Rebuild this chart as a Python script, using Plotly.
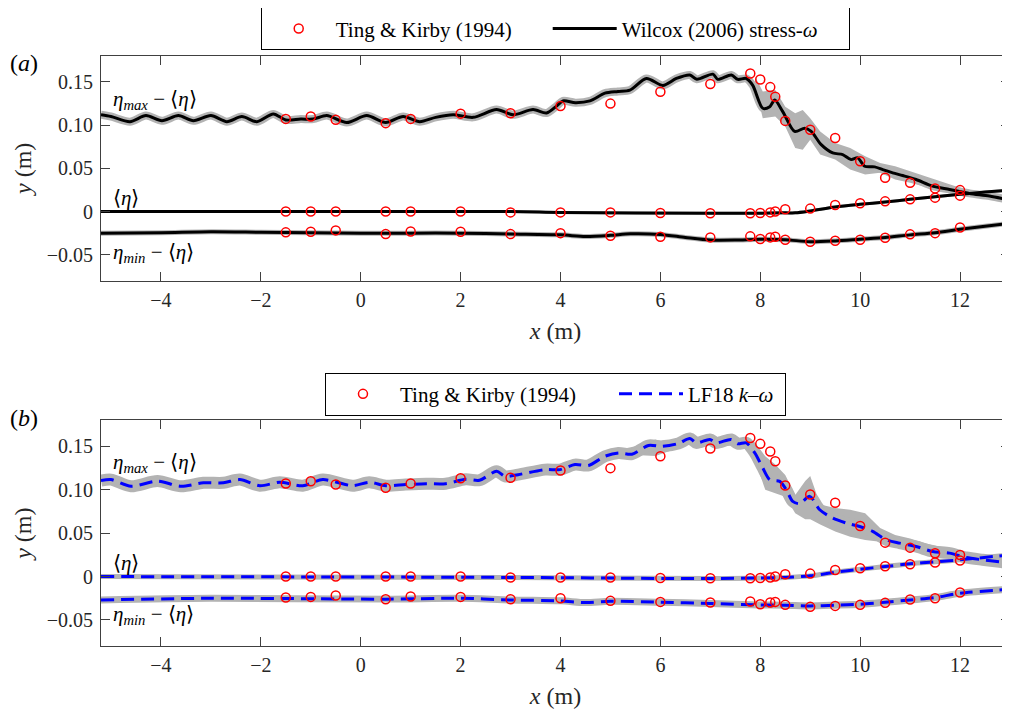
import plotly.graph_objects as go

# ---------------- Experimental data (Ting & Kirby 1994) ----------------
exp_x = [-1.5, -1.0, -0.5, 0.5, 1.0, 2.0, 3.0, 4.0, 5.0, 6.0, 7.0, 7.8, 8.0, 8.2, 8.3,
         8.5, 9.0, 9.5, 10.0, 10.5, 11.0, 11.5, 12.0]
exp_max = [0.1072, 0.1099, 0.1061, 0.1023, 0.1072, 0.1133, 0.1138, 0.1222, 0.1249, 0.1387,
           0.1475, 0.1597, 0.1529, 0.1440, 0.1329, 0.1049, 0.0946, 0.0851, 0.0582, 0.0391,
           0.0333, 0.0268, 0.0248]
exp_mean = [0.0, 0.0, 0.0, 0.0, 0.0, 0.0, -0.001, -0.001, -0.001, -0.0016, -0.002, -0.002,
            -0.0016, -0.001, 0.0, 0.0026, 0.0034, 0.0076, 0.0095, 0.0118, 0.0141, 0.0161, 0.0184]
exp_min = [-0.0241, -0.0234, -0.0218, -0.0261, -0.0230, -0.0234, -0.0261, -0.0250, -0.0280,
           -0.0292, -0.0299, -0.0287, -0.0318, -0.0299, -0.0292, -0.0326, -0.0349, -0.0338,
           -0.0326, -0.0303, -0.0264, -0.0250, -0.0184]

# ---------------- Panel (a): Wilcox (2006) stress-omega ----------------
wa_max_x = [-5.2, -5.0, -4.62, -4.3, -3.98, -3.65, -3.35, -3.0, -2.68, -2.38, -2.08, -1.75,
            -1.5, -1.2, -0.95, -0.68, -0.28, 0.12, 0.5, 0.85, 1.18, 1.5, 1.85, 2.25, 2.72,
            3.05, 3.45, 3.72, 3.92, 4.05, 4.3, 4.59, 4.89, 5.15, 5.39, 5.72, 6.05, 6.32,
            6.59, 6.73, 7.05, 7.15, 7.42, 7.55, 7.72, 7.85, 8.05, 8.19, 8.29, 8.45, 8.69,
            8.89, 9.02, 9.22, 9.45, 9.65, 9.82, 9.95, 10.09, 10.29, 10.45, 10.65, 10.85,
            11.12, 11.45, 11.79, 12.19, 12.59, 12.99]
wa_max_y = [0.112, 0.110, 0.104, 0.111, 0.105, 0.111, 0.105, 0.111, 0.104, 0.110, 0.104,
            0.113, 0.106, 0.107, 0.107, 0.111, 0.103, 0.111, 0.103, 0.110, 0.104, 0.109,
            0.112, 0.109, 0.118, 0.112, 0.118, 0.114, 0.122, 0.128, 0.126, 0.128, 0.137,
            0.139, 0.1406, 0.154, 0.146, 0.154, 0.158, 0.153, 0.159, 0.153, 0.158, 0.153,
            0.154, 0.146, 0.1195, 0.1214, 0.129, 0.1157, 0.0927, 0.0965, 0.0927, 0.0774,
            0.0678, 0.0659, 0.0601, 0.0621, 0.0524, 0.0517, 0.0486, 0.0448, 0.0417, 0.0371,
            0.0294, 0.0256, 0.021, 0.018, 0.0133]
wa_mean_x = [-5.2, 3.0, 4.0, 7.0, 8.0, 8.5, 8.7, 9.0, 9.5, 10.0, 10.5, 11.0, 11.5, 12.0, 12.5, 13.0]
wa_mean_y = [0.0, 0.0, -0.001, -0.002, -0.002, -0.0015, -0.0015, 0.0007, 0.0053, 0.0084,
             0.011, 0.0141, 0.0172, 0.0199, 0.0225, 0.0248]
wa_min_x = [-5.2, -4.0, -3.0, -2.0, -1.0, 0.0, 1.0, 2.0, 3.0, 4.0, 4.5, 5.0, 5.4, 6.0, 6.5,
            7.0, 7.5, 8.0, 8.5, 9.0, 9.5, 10.0, 10.5, 11.0, 11.5, 12.0, 12.5, 13.0]
wa_min_y = [-0.025, -0.0245, -0.0235, -0.024, -0.0245, -0.025, -0.025, -0.025, -0.026,
            -0.027, -0.0288, -0.0275, -0.0257, -0.0265, -0.030, -0.033, -0.033, -0.032,
            -0.0325, -0.035, -0.034, -0.032, -0.030, -0.027, -0.0245, -0.0205, -0.017, -0.0135]
wa_band_x = [7.9, 8.05, 8.3, 8.5, 8.7, 8.85, 9.0, 9.2, 9.5, 9.8, 10.1, 10.4, 10.7, 11.0,
             11.5, 12.0, 12.5, 13.0]
wa_band_hi = [0.156, 0.139, 0.1406, 0.1214, 0.1138, 0.1176, 0.108, 0.0926, 0.0793, 0.0736,
              0.0639, 0.0563, 0.0525, 0.0467, 0.0371, 0.0276, 0.021, 0.016]
wa_band_lo = [0.144, 0.108, 0.110, 0.0984, 0.0736, 0.0716, 0.0831, 0.0659, 0.0601, 0.0486,
              0.0429, 0.0448, 0.0371, 0.0333, 0.0256, 0.0199, 0.015, 0.010]

# ---------------- Panel (b): LF18 k-omega ----------------
lf_max_x = [-5.2, -5.0, -4.6, -4.07, -3.6, -3.15, -2.75, -2.42, -2.02, -1.62, -1.16, -0.76,
            -0.16, 0.17, 0.5, 0.9, 1.31, 1.7, 2.1, 2.38, 2.72, 2.89, 3.15, 3.69, 3.99, 4.29,
            4.56, 4.89, 5.16, 5.43, 5.76, 6.03, 6.36, 6.59, 6.72, 6.99, 7.12, 7.42, 7.55,
            7.72, 7.89, 8.05, 8.19, 8.39, 8.52, 8.65, 8.79, 8.99, 9.19, 9.45, 9.72, 9.99,
            10.25, 10.52, 10.79, 11.12, 11.45, 11.79, 12.12, 12.45, 12.79, 13.0]
lf_max_y = [0.1105, 0.1117, 0.104, 0.110, 0.104, 0.108, 0.108, 0.1117, 0.1047, 0.1086,
            0.1047, 0.1117, 0.1047, 0.1086, 0.1047, 0.106, 0.107, 0.107, 0.112, 0.111,
            0.1213, 0.1155, 0.1174, 0.1232, 0.1232, 0.129, 0.128, 0.1386, 0.1424, 0.141,
            0.151, 0.150, 0.1533, 0.159, 0.154, 0.158, 0.154, 0.158, 0.153, 0.154, 0.1425,
            0.1252, 0.1117, 0.1097, 0.1001, 0.0866, 0.084, 0.0924, 0.077, 0.0674, 0.0617,
            0.0577, 0.052, 0.0424, 0.0385, 0.0346, 0.0289, 0.027, 0.022, 0.0193, 0.017, 0.0155]
lf_mean_x = [-5.2, 3.0, 7.0, 8.5, 9.0, 9.5, 10.0, 10.5, 11.0, 11.5, 12.0, 13.0]
lf_mean_y = [0.0, -0.001, -0.0023, -0.001, 0.0008, 0.005, 0.0085, 0.0115, 0.0147, 0.017,
             0.0193, 0.025]
lf_min_x = [-5.2, -3.0, 0.5, 2.0, 3.0, 4.0, 4.5, 5.0, 6.0, 7.0, 8.0, 8.5, 9.0, 9.5, 10.0,
            10.5, 11.0, 11.5, 12.0, 13.0]
lf_min_y = [-0.027, -0.025, -0.026, -0.025, -0.027, -0.028, -0.030, -0.0285, -0.0296, -0.031,
            -0.0327, -0.033, -0.0338, -0.033, -0.0319, -0.0296, -0.027, -0.0243, -0.0192, -0.0146]
lf_band_x = [4.0, 4.5, 5.0, 5.5, 5.9, 6.2, 6.5, 7.0, 7.5, 7.75, 7.9, 8.1, 8.3, 8.5, 8.7,
             8.9, 9.0, 9.2, 9.5, 9.8, 10.1, 10.4, 10.7, 11.0, 11.3, 11.6, 12.0, 12.5, 13.0]
lf_band_hi = [0.129, 0.133, 0.144, 0.150, 0.158, 0.153, 0.160, 0.161, 0.158, 0.157, 0.154,
              0.1386, 0.129, 0.117, 0.094, 0.110, 0.116, 0.083, 0.079, 0.077, 0.073, 0.056,
              0.048, 0.044, 0.0385, 0.0346, 0.029, 0.023, 0.021]
lf_band_lo = [0.121, 0.125, 0.135, 0.140, 0.139, 0.145, 0.152, 0.153, 0.150, 0.150, 0.133,
              0.100, 0.096, 0.092, 0.073, 0.066, 0.066, 0.060, 0.052, 0.046, 0.042, 0.040,
              0.035, 0.029, 0.027, 0.0232, 0.019, 0.0155, 0.0116]

x_tickvals = [-4, -2, 0, 2, 4, 6, 8, 10, 12]
x_ticktext = ["\u22124", "\u22122", "0", "2", "4", "6", "8", "10", "12"]
y_tickvals = [-0.05, 0.0, 0.05, 0.10, 0.15]
y_ticktext = ["\u22120.05", "0", "0.05", "0.10", "0.15"]

FONT = "Liberation Serif, Times New Roman, Times, serif"
GRAY = "#b3b3b3"
TXT = "#262626"
AX = "#404040"

fig = go.Figure()


def add_panel(xr, yr, legend, band_x, band_hi, band_lo, curves, halo_w, line_style,
              line_name, exp_w, line_w):
    # shaded range band
    fig.add_trace(go.Scatter(x=band_x, y=band_lo, mode="lines", line=dict(width=0, color=GRAY),
                             showlegend=False, hoverinfo="skip", xaxis=xr, yaxis=yr))
    fig.add_trace(go.Scatter(x=band_x, y=band_hi, mode="lines", line=dict(width=0, color=GRAY),
                             fill="tonexty", fillcolor=GRAY, showlegend=False, hoverinfo="skip",
                             xaxis=xr, yaxis=yr))
    # thin range halo around each curve
    for (cx, cy), hw in zip(curves, halo_w):
        fig.add_trace(go.Scatter(x=cx, y=cy, mode="lines",
                                 line=dict(width=hw, color=GRAY, shape="spline", smoothing=0.8),
                                 showlegend=False, hoverinfo="skip", xaxis=xr, yaxis=yr))
    for i, (cx, cy) in enumerate(curves):
        fig.add_trace(go.Scatter(x=cx, y=cy, mode="lines", name=line_name,
                                 line=dict(shape="spline", smoothing=0.8, **line_style),
                                 showlegend=(i == 0), legendgroup=legend + "m",
                                 legendwidth=line_w,
                                 legend=legend, legendrank=2, xaxis=xr, yaxis=yr))
    for i, ey in enumerate([exp_max, exp_mean, exp_min]):
        fig.add_trace(go.Scatter(x=exp_x, y=ey, mode="markers", name="Ting &amp; Kirby (1994)",
                                 marker=dict(symbol="circle", size=9, color="rgba(0,0,0,0)",
                                             line=dict(color="#ff0000", width=1.5)),
                                 showlegend=(i == 0), legendgroup=legend + "e",
                                 legendwidth=exp_w,
                                 legend=legend, legendrank=1, xaxis=xr, yaxis=yr))


add_panel("x", "y", "legend", wa_band_x, wa_band_hi, wa_band_lo,
          [(wa_max_x, wa_max_y), (wa_mean_x, wa_mean_y), (wa_min_x, wa_min_y)], [8, 3, 5],
          dict(color="#000000", width=3), "Wilcox (2006) stress-<i>\u03c9</i>", 207, 222)
add_panel("x2", "y2", "legend2", lf_band_x, lf_band_hi, lf_band_lo,
          [(lf_max_x, lf_max_y), (lf_mean_x, lf_mean_y), (lf_min_x, lf_min_y)], [12, 5, 7],
          dict(color="#0000ff", width=3, dash="13px,7px"), "LF18 <i>k</i>\u2013<i>\u03c9</i>",
          209, 92)

axis_common = dict(showline=True, linecolor=AX, linewidth=1, mirror="ticks", ticks="inside",
                   ticklen=9, tickwidth=1, tickcolor=AX, showgrid=False, zeroline=False,
                   tickfont=dict(family=FONT, size=20, color=TXT))
xcommon = dict(axis_common, range=[-5.2, 13], tickvals=x_tickvals, ticktext=x_ticktext,
               ticklabelstandoff=1,
               title=dict(text="<i>x</i> (m)", font=dict(family=FONT, size=24, color=TXT),
                          standoff=12))
ycommon = dict(axis_common, range=[-0.08, 0.18], tickvals=y_tickvals, ticktext=y_ticktext,
               ticklabelstandoff=3,
               title=dict(text="<i>y</i> (m)", font=dict(family=FONT, size=24, color=TXT),
                          standoff=8))

legend_common = dict(orientation="h", bgcolor="white", bordercolor="#000000", borderwidth=1,
                     font=dict(family=FONT, size=21, color="#000000"), itemwidth=64,
                     xanchor="left", yanchor="top", traceorder="normal")

annots = []
label_font = dict(family=FONT, size=21, color="#000000")
for xr, yr, ymax, ymean, ymin in [("x", "y", 0.129, 0.016, -0.048),
                                  ("x2", "y2", 0.131, 0.0155, -0.0442)]:
    annots.append(dict(x=-5.0, y=ymax, xref=xr, yref=yr, xanchor="left", yanchor="middle",
                       text="<i>\u03b7</i><sub><i>max</i></sub> \u2212 \u27e8<i>\u03b7</i>\u27e9",
                       showarrow=False, font=label_font))
    annots.append(dict(x=-5.0, y=ymean, xref=xr, yref=yr, xanchor="left", yanchor="middle",
                       text="\u27e8<i>\u03b7</i>\u27e9", showarrow=False, font=label_font))
    annots.append(dict(x=-5.0, y=ymin, xref=xr, yref=yr, xanchor="left", yanchor="middle",
                       text="<i>\u03b7</i><sub><i>min</i></sub> \u2212 \u27e8<i>\u03b7</i>\u27e9",
                       showarrow=False, font=label_font))
annots.append(dict(x=-0.1023, y=0.9876, xref="paper", yref="paper", xanchor="left",
                   yanchor="middle", text="(<i>a</i>)", showarrow=False,
                   font=dict(family=FONT, size=24, color="#000000")))
annots.append(dict(x=-0.1023, y=0.386, xref="paper", yref="paper", xanchor="left",
                   yanchor="middle", text="(<i>b</i>)", showarrow=False,
                   font=dict(family=FONT, size=24, color="#000000")))

# the page body adds an 8px offset, so the figure is 8px smaller and margins shifted
fig.update_layout(
    width=1002, height=701,
    margin=dict(l=93, r=0, t=48, b=63, autoexpand=False),
    paper_bgcolor="white", plot_bgcolor="white",
    xaxis=dict(xcommon, domain=[0, 1], anchor="y"),
    yaxis=dict(ycommon, domain=[0.6192, 1], anchor="x"),
    xaxis2=dict(xcommon, domain=[0, 1], anchor="y2"),
    yaxis2=dict(ycommon, domain=[0, 0.3825], anchor="x2"),
    legend=dict(legend_common, x=0.1757, y=1.0825),
    legend2=dict(legend_common, x=0.2464, y=0.4632),
    annotations=annots,
    font=dict(family=FONT, color=TXT),
    showlegend=True,
)

fig.write_html("out.html")
